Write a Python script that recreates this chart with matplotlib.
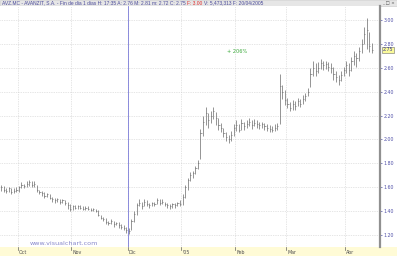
import matplotlib
matplotlib.use("Agg")
import matplotlib.pyplot as plt
import matplotlib.transforms as mtransforms
from matplotlib.patches import Rectangle
import numpy as np

# Month labels and number of daily bars in each month (first block is end of Sept)
Months = ["", "Oct", "Nov", "Dic", "'05", "Feb", "Mar", "Abr"]
BarsPerMonth = [7, 21, 22, 21, 21, 20, 23, 11]

Closes = [
    1.60, 1.58, 1.57, 1.59, 1.56, 1.57, 1.58,
    1.60, 1.62, 1.61, 1.63, 1.64, 1.62, 1.63, 1.58, 1.56, 1.55, 1.53, 1.54, 1.51, 1.50, 1.49, 1.50, 1.48, 1.49, 1.47, 1.45, 1.42,
    1.44, 1.43, 1.44, 1.43, 1.42, 1.43, 1.42, 1.41, 1.42, 1.40, 1.37, 1.34, 1.33, 1.31, 1.30, 1.32, 1.29, 1.30, 1.28, 1.27, 1.26, 1.24,
    1.23, 1.32, 1.38, 1.45, 1.47, 1.44, 1.48, 1.46, 1.45, 1.47, 1.46, 1.49, 1.47, 1.48, 1.46, 1.45, 1.44, 1.46, 1.45, 1.47, 1.46,
    1.52, 1.60, 1.66, 1.70, 1.72, 1.76, 1.80, 2.05, 2.15, 2.22, 2.16, 2.20, 2.24, 2.18, 2.12, 2.10, 2.05, 2.02, 2.00, 2.04, 2.10,
    2.12, 2.08, 2.14, 2.11, 2.13, 2.15, 2.12, 2.14, 2.13, 2.12, 2.13, 2.11, 2.10, 2.09, 2.08, 2.10, 2.11, 2.45, 2.40, 2.33,
    2.30, 2.26, 2.30, 2.28, 2.32, 2.30, 2.34, 2.36, 2.40, 2.55, 2.60, 2.57, 2.60, 2.64, 2.62, 2.63, 2.61, 2.60, 2.55, 2.52, 2.50, 2.54, 2.58,
    2.62, 2.58, 2.66, 2.70, 2.68, 2.74, 2.80, 2.88, 2.92, 2.78, 2.75,
]
Highs = [
    1.62, 1.61, 1.59, 1.60, 1.59, 1.59, 1.60,
    1.61, 1.64, 1.63, 1.65, 1.66, 1.65, 1.65, 1.62, 1.58, 1.57, 1.56, 1.55, 1.54, 1.52, 1.51, 1.51, 1.50, 1.50, 1.49, 1.48, 1.46,
    1.45, 1.45, 1.45, 1.45, 1.44, 1.44, 1.44, 1.43, 1.43, 1.42, 1.41, 1.37, 1.35, 1.34, 1.32, 1.33, 1.32, 1.31, 1.31, 1.29, 1.28, 1.27,
    1.26, 1.33, 1.40, 1.47, 1.50, 1.48, 1.50, 1.49, 1.47, 1.48, 1.48, 1.51, 1.50, 1.50, 1.48, 1.47, 1.46, 1.47, 1.47, 1.48, 1.49,
    1.54, 1.62, 1.68, 1.73, 1.74, 1.78, 1.83, 2.09, 2.20, 2.27, 2.22, 2.24, 2.27, 2.23, 2.18, 2.14, 2.10, 2.06, 2.04, 2.07, 2.13,
    2.16, 2.13, 2.17, 2.15, 2.16, 2.18, 2.16, 2.17, 2.16, 2.15, 2.15, 2.14, 2.13, 2.12, 2.11, 2.13, 2.14, 2.55, 2.46, 2.41,
    2.35, 2.31, 2.33, 2.32, 2.35, 2.34, 2.37, 2.39, 2.43, 2.60, 2.66, 2.64, 2.65, 2.67, 2.66, 2.66, 2.65, 2.64, 2.61, 2.57, 2.54, 2.57, 2.61,
    2.66, 2.64, 2.69, 2.74, 2.72, 2.77, 2.84, 2.94, 3.02, 2.90, 2.81,
]
Lows = [
    1.57, 1.56, 1.55, 1.56, 1.54, 1.55, 1.56,
    1.56, 1.59, 1.59, 1.60, 1.61, 1.60, 1.60, 1.56, 1.54, 1.53, 1.51, 1.52, 1.50, 1.48, 1.47, 1.48, 1.46, 1.47, 1.45, 1.42, 1.40,
    1.41, 1.42, 1.42, 1.42, 1.41, 1.41, 1.41, 1.40, 1.40, 1.39, 1.36, 1.33, 1.32, 1.29, 1.28, 1.29, 1.27, 1.28, 1.26, 1.25, 1.24, 1.22,
    1.21, 1.24, 1.31, 1.37, 1.44, 1.42, 1.44, 1.44, 1.43, 1.44, 1.44, 1.46, 1.45, 1.46, 1.44, 1.43, 1.42, 1.43, 1.43, 1.44, 1.44,
    1.45, 1.51, 1.58, 1.65, 1.68, 1.71, 1.75, 1.84, 2.03, 2.12, 2.10, 2.14, 2.17, 2.12, 2.08, 2.06, 2.02, 1.99, 1.97, 1.99, 2.03,
    2.07, 2.06, 2.08, 2.08, 2.10, 2.11, 2.09, 2.11, 2.10, 2.09, 2.10, 2.08, 2.07, 2.06, 2.06, 2.07, 2.08, 2.13, 2.34, 2.29,
    2.26, 2.24, 2.25, 2.25, 2.28, 2.27, 2.30, 2.32, 2.36, 2.44, 2.53, 2.53, 2.56, 2.59, 2.58, 2.59, 2.57, 2.56, 2.50, 2.48, 2.46, 2.49, 2.53,
    2.56, 2.53, 2.57, 2.62, 2.61, 2.66, 2.72, 2.80, 2.76, 2.73, 2.72,
]

PriceTicks = [1.20, 1.40, 1.60, 1.80, 2.00, 2.20, 2.40, 2.60, 2.80, 3.00]
LastPrice = 2.75
GainText = "+ 206%"
MarkerMonth = "Dic"
Watermark = "www.visualchart.com"

HeaderParts = [
    ("AVZ.MC - AVANZIT, S.A. - Fin de dia 1 dias H: 17:35 A: 2.76 M: 2.81 m: 2.72 C: 2.75 ", "#4a4a9a"),
    ("F: 3.00 ", "#e03030"),
    ("V: 5,473,313 F: 20/04/2005", "#4a4a9a"),
]

W, H = 397, 256
PlotTop, PlotBottom, PlotRight = 6, 247, 380
HeaderY = 1 - 3.2 / H


def createFigure():
    fig = plt.figure(figsize=(W / 100, H / 100), dpi=100)
    fig.patch.set_facecolor("white")
    ax = fig.add_axes([0, (H - PlotBottom) / H, PlotRight / W, (PlotBottom - PlotTop) / H])
    return fig, ax


def prepareAxis(ax, n):
    ax.set_xlim(-0.4, n + 2.2)
    # y pixel 20 -> 3.00, y pixel 235 -> 1.20
    PxPerUnit = (235 - 20) / 1.8
    ax.set_ylim(3.00 - (PlotBottom - 20) / PxPerUnit, 3.00 + (20 - PlotTop) / PxPerUnit)
    ax.set_facecolor("white")
    for s in ["left", "top", "bottom"]:
        ax.spines[s].set_visible(False)
    ax.spines["right"].set_color("#909090")
    ax.spines["right"].set_linewidth(1.6)
    ax.yaxis.tick_right()
    ax.set_yticks(PriceTicks)
    ax.set_yticklabels(["%.2f" % v for v in PriceTicks])
    ax.tick_params(axis="y", length=1.5, width=0.5, pad=1, labelsize=3.4,
                   colors="#5050a8", labelcolor="#5050a8")
    ax.set_xticks([])
    ax.grid(axis="y", linestyle=(0, (1, 1.5)), linewidth=0.5, color="#cccccc")


def generatePlot():
    fig, ax = createFigure()
    n = len(Closes)
    Xs = np.arange(n)
    prepareAxis(ax, n)

    MonthStarts = np.cumsum([0] + BarsPerMonth[:-1])

    # vertical month grid
    for i, m in enumerate(Months):
        if m == "":
            continue
        x0 = MonthStarts[i] - 0.5
        ax.axvline(x0, linestyle=(0, (1, 1.5)), linewidth=0.5, color="#cccccc", zorder=0)
        if m == MarkerMonth:
            ax.axvline(x0, color="#7a7ad8", linewidth=0.6, zorder=3)

    # HLC bars
    ax.vlines(Xs, Lows, Highs, color="#5a5a5a", linewidth=0.45, zorder=2)
    ax.hlines(Closes, Xs, Xs + 0.45, color="#5a5a5a", linewidth=0.4, zorder=2)

    ax.text(88.5, 2.74, GainText, color="#38a838", fontsize=3.6, ha="left", va="center")
    ax.text(11.3, 1.11, Watermark, color="#8888cc", fontsize=4.6, ha="left", va="bottom")

    # last price box on the right scale
    ax.annotate("%.2f" % LastPrice, xy=(1.0, LastPrice), xycoords=("axes fraction", "data"),
                xytext=(2.2, 0), textcoords="offset points", fontsize=3.4, color="#3c3c8c",
                va="center", ha="left",
                bbox=dict(boxstyle="square,pad=0.15", facecolor="#fafa9a", edgecolor="#707070", linewidth=0.4))

    # header bar
    fig.patches.append(Rectangle((0, (H - PlotTop) / H), 1, PlotTop / H, transform=fig.transFigure,
                                 facecolor="#e6e6e6", edgecolor="#c8c8c8", linewidth=0.4, zorder=-1))
    pieces = []
    for txt, col in HeaderParts:
        t = fig.text(2 / W, HeaderY, txt, fontsize=3.5, color=col, va="center", ha="left",
                     family="Liberation Sans")
        pieces.append(t)
    fig.text(1 - 2 / W, HeaderY, "_ \u25a1 \u00d7", fontsize=3.2, color="#505050", ha="right", va="center")

    # bottom date band
    fig.patches.append(Rectangle((0, 0), 1, (H - PlotBottom) / H, transform=fig.transFigure,
                                 facecolor="#fffbd6", edgecolor="none", zorder=-1))
    trans = mtransforms.blended_transform_factory(ax.transData, fig.transFigure)
    for i, m in enumerate(Months):
        if m == "":
            continue
        x0 = MonthStarts[i] - 0.5
        ax.plot([x0, x0], [(H - PlotBottom) / H, (H - PlotBottom - 3) / H], transform=trans,
                color="#606060", linewidth=0.5, clip_on=False)
        ax.text(x0 + 0.5, 3.0 / H, m, transform=trans, fontsize=3.4, color="#505050",
                ha="left", va="center", clip_on=False)

    # chain the header pieces one after another
    fig.canvas.draw()
    r = fig.canvas.get_renderer()
    inv = fig.transFigure.inverted()
    for a, b in zip(pieces[:-1], pieces[1:]):
        bb = a.get_window_extent(r)
        x1 = inv.transform((bb.x1, bb.y0))[0]
        b.set_position((x1, HeaderY))

    fig.savefig("out.png", dpi=100)
    plt.close()


generatePlot()
